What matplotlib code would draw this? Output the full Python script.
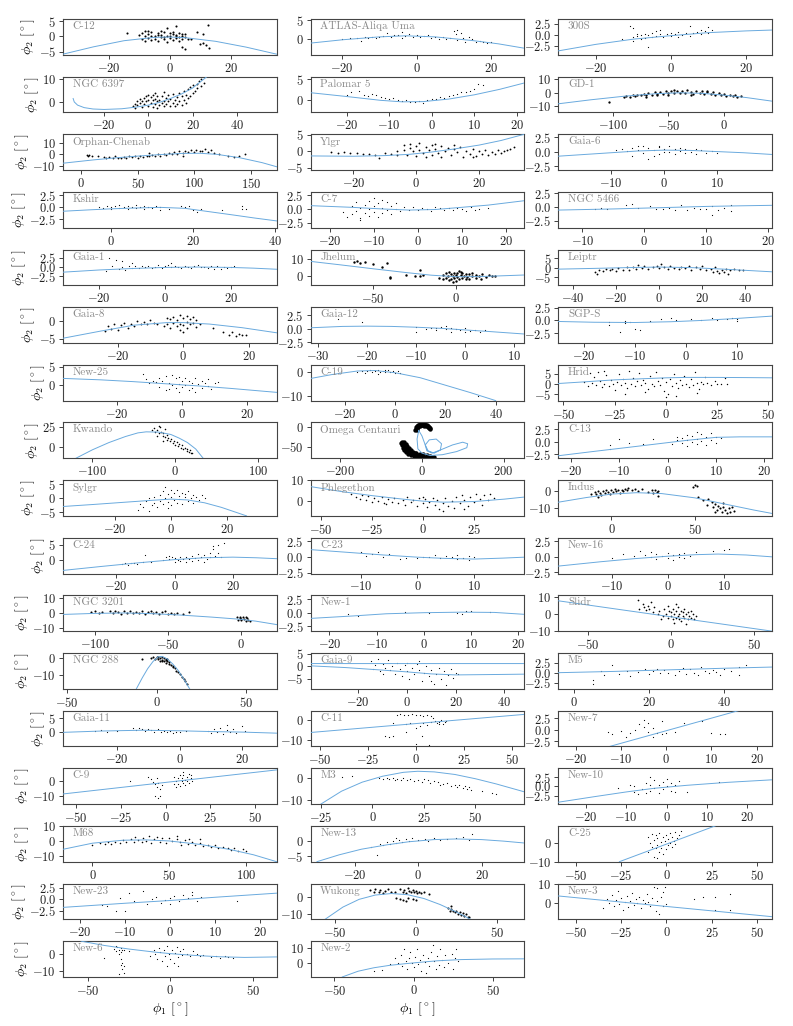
import numpy as np
import matplotlib
matplotlib.use('Agg')
import matplotlib.pyplot as plt

plt.rcParams['font.family'] = 'serif'
plt.rcParams['font.serif'] = ['cmr10']
plt.rcParams['mathtext.fontset'] = 'cm'
plt.rcParams['axes.formatter.use_mathtext'] = True
plt.rcParams['font.size'] = 8

# stream names, in panel order
names = ['C-12', 'ATLAS-Aliqa Uma', '300S', 'NGC 6397', 'Palomar 5', 'GD-1',
         'Orphan-Chenab', 'Ylgr', 'Gaia-6', 'Kshir', 'C-7', 'NGC 5466',
         'Gaia-1', 'Jhelum', 'Leiptr', 'Gaia-8', 'Gaia-12', 'SGP-S',
         'New-25', 'C-19', 'Hrid', 'Kwando', 'Omega Centauri', 'C-13',
         'Sylgr', 'Phlegethon', 'Indus', 'C-24', 'C-23', 'New-16',
         'NGC 3201', 'New-1', 'Slidr', 'NGC 288', 'Gaia-9', 'M5',
         'Gaia-11', 'C-11', 'New-7', 'C-9', 'M3', 'New-10',
         'M68', 'New-13', 'C-25', 'New-23', 'Wukong', 'New-3',
         'New-6', 'New-2']

xlims = [(-35, 35), (-28.5, 29), (-30, 27), (-38.6, 58), (-28.5, 21.8), (-149, 43),
         (-16, 173), (-33.6, 34.4), (-20, 20.4), (-11.8, 40.4), (-24.3, 24.2), (-13.9, 20.7),
         (-31, 34), (-88, 41.5), (-47, 52.5), (-36.7, 28.5), (-31.5, 12), (-25, 16.8),
         (-36.5, 29), (-33.6, 51.4), (-52.5, 51.7), (-135.7, 123), (-273, 251), (-22.6, 21.6),
         (-38.7, 37.8), (-55, 49.6), (-31.8, 96), (-38.3, 35), (-18.8, 18.8), (-19.5, 18.6),
         (-121.9, 24.3), (-24, 21.3), (-67.6, 60.6), (-52.3, 67), (-39.6, 48.2), (-4.3, 52.9),
         (-37.2, 31), (-54.7, 56.5), (-23.9, 23.4), (-57.4, 62.2), (-30, 73.7), (-26.9, 26.2),
         (-19.2, 120), (-34, 33.5), (-59.8, 58.4), (-23.8, 23.8), (-64.9, 67), (-59.8, 58.4),
         (-65, 64.5), (-65, 70)]

ylims = [(-6, 5.7), (-4.4, 5.4), (-4.6, 3.65), (-4.6, 11.1), (-2.85, 5.6), (-15, 12),
         (-13.3, 17), (-5.7, 5.2), (-3.2, 3.0), (-4.2, 3.2), (-3.4, 3.1), (-3.7, 2.7),
         (-5, 4.8), (-5.4, 15.4), (-9.3, 9.5), (-6.1, 3.75), (-2.6, 4), (-4.4, 2.6),
         (-4.4, 5.6), (-11.7, 2.7), (-8.2, 9.4), (-14, 30.5), (-79, 12.5), (-3.3, 3.9),
         (-6.2, 6.4), (-7.4, 10.1), (-14.4, 6.3), (-4.3, 7.3), (-2.6, 3.1), (-2.7, 3.1),
         (-12.2, 11.8), (-3.4, 3.2), (-10, 11), (-17.9, 2.9), (-8.9, 5.3), (-4, 4.9),
         (-5.6, 7.9), (-13.3, 4.7), (-3.6, 4.1), (-15.1, 8.7), (-12, 4.7), (-4.8, 4.95),
         (-13.9, 10.1), (-6.8, 4.7), (-10, 9), (-4.4, 3.4), (-13.1, 7.7), (-8.9, 10.1),
         (-13.7, 8.1), (-9.3, 14.4)]

xticks = [[-20, 0, 20], [-20, 0, 20], [-20, 0, 20], [-20, 0, 20, 40], [-20, -10, 0, 10, 20], [-100, -50, 0],
          [0, 50, 100, 150], [-20, 0, 20], [-10, 0, 10], [0, 20, 40], [-20, -10, 0, 10, 20], [-10, 0, 10, 20],
          [-20, 0, 20], [-50, 0], [-40, -20, 0, 20, 40], [-20, 0, 20], [-30, -20, -10, 0, 10], [-20, -10, 0, 10],
          [-20, 0, 20], [-20, 0, 20, 40], [-50, -25, 0, 25, 50], [-100, 0, 100], [-200, 0, 200], [-20, -10, 0, 10, 20],
          [-20, 0, 20], [-50, -25, 0, 25], [0, 50], [-20, 0, 20], [-10, 0, 10], [-10, 0, 10],
          [-100, -50, 0], [-20, -10, 0, 10, 20], [-50, 0, 50], [-50, 0, 50], [-20, 0, 20, 40], [0, 20, 40],
          [-20, 0, 20], [-50, -25, 0, 25, 50], [-20, -10, 0, 10, 20], [-50, -25, 0, 25, 50], [-25, 0, 25, 50], [-20, -10, 0, 10, 20],
          [0, 50, 100], [-20, 0, 20], [-50, -25, 0, 25, 50], [-20, -10, 0, 10, 20], [-50, 0, 50], [-50, -25, 0, 25, 50],
          [-50, 0, 50], [-50, 0, 50]]

h = [-2.5, 0, 2.5]
yticks = [[-5, 0, 5], [0, 5], h, [0, 10], [0, 5], [-10, 0, 10],
          [-10, 0, 10], [-5, 0, 5], h, h, h, h,
          h, [0, 10], [-5, 0, 5], [-5, 0], h, h,
          [0, 5], [-10, 0], [-5, 0, 5], [0, 25], [-50, 0], h,
          [-5, 0, 5], [0, 10], [-10, 0], [0, 5], h, h,
          [-10, 0, 10], h, [-10, 0, 10], [-10, 0], [-5, 0, 5], h,
          [0, 5], [-10, 0], h, [-10, 0], [-10, 0], h,
          [-10, 0, 10], [-5, 0], [-10, 0], h, [-10, 0], [0, 10],
          [-10, 0], [0, 10]]

# track (blue line) per stream, phi1 and phi2; nan splits separate pieces
nan = np.nan
track_x = [
    [-35, -25, -15, -5, 0, 5, 15, 25, 35],
    [-28.5, -20, -10, -3, 5, 15, 22, 29],
    [-30, -20, -10, 0, 10, 20, 27],
    [-34, -33.5, -32, -29, -25, -20, -12, -5, 0, 5, 10, 15, 20, 26.5],
    [-28.5, -20, -12, -7, -2, 4, 10, 16, 21.8],
    [-149, -120, -90, -60, -40, -20, 0, 20, 43],
    [-16, 10, 30, 50, 70, 90, 105, 120, 140, 160, 173],
    [-33.6, -20, -10, -2, 5, 12, 20, 27, 34.4],
    [-20, -10, -5, 0, 5, 10, 15, 20.4],
    [-11.8, -5, 0, 5, 12, 18, 24, 30, 35, 40.4],
    [-24.3, -15, -8, -2, 4, 10, 16, 24.2],
    [-13.9, -5, 0, 5, 10, 15, 20.7],
    [-31, -20, -10, 0, 10, 20, 27, 34],
    [-88, -70, -50, -30, -15, 0, 15, 30, 41.5],
    [-47, -30, -15, 0, 15, 30, 52.5],
    [-36.7, -25, -15, -5, 0, 8, 18, 28.5],
    [-31.5, -25, -20, -15, -10, -5, 0, 5, 12],
    [-25, -18, -10, -3, 3, 10, 16.8],
    [-36.5, -25, -15, -5, 5, 15, 29],
    [-33.6, -25, -15, -8, 0, 10, 20, 30, 40],
    [-52.5, -40, -25, -10, 0, 10, 25, 40, 51.7],
    [-120, -100, -80, -60, -45, -35, -20, -5, 5, 15, 25, 34],
    [-8, -12, -10, 0, 20, 50, 85, 110, 112, 100, 75, 45, 25, 12, 8, 18, 35, 48, 45, 30, 15, 8, 0, -8],
    [-22.6, -15, -8, -2, 4, 10, 15, 21.6],
    [-38.7, -28, -18, -8, 0, 6, 12, 18, 24, 27],
    [-55, -40, -25, -10, 0, 10, 25, 40, 49.6],
    [-31.8, -15, 0, 15, 30, 50, 70, 85, 96],
    [-38.3, -25, -12, 0, 10, 20, 28, 35],
    [-18.8, -12, -6, 0, 5, 10, 15, 18.8],
    [-19.5, -12, -6, 0, 5, 9, 14, 18.6],
    [-121.9, -100, -80, -60, -40, -20, 0, 10, 24.3],
    [-24, -15, -8, 0, 8, 15, 21.3],
    [-67.6, 0, 60.6],
    [-11.3, -8, -5, -2, 1, 3, 6, 9, 12, 15, 18.4],
    [-39.6, -25, -10, 0, 10, 20, 30, 40, 48.2, nan, -39.6, 48.2],
    [-4.3, 10, 25, 40, 52.9],
    [-37.2, -25, -12, 0, 10, 20, 31],
    [-54.7, 56.5],
    [-12.5, 16],
    [-57.4, 62.2],
    [-25, -15, -5, 5, 15, 22, 30, 40, 50, 60, 73.7],
    [-26.9, -18, -10, -3, 5, 15, 26.2],
    [-19.2, 0, 20, 35, 50, 70, 90, 105, 120],
    [-32, -25, -18, -10, -3, 5, 12, 20, 27, 33.5],
    [-26, 27],
    [-23.8, -10, 0, 10, 23.8],
    [-56, -45, -35, -25, -15, -5, 5, 15, 25, 33.9],
    [-59.8, 58.4],
    [-54, -40, -25, -10, 0, 15, 30, 45, 64.5],
    [-45, -35, -25, -15, -5, 5, 15, 30, 50, 70],
]
track_y = [
    [-5.8, -3.4, -1.4, -0.3, -0.2, -0.4, -1.6, -3.5, -5.8],
    [-1.2, -0.3, 0.5, 0.8, 0.5, -0.5, -1.4, -2.6],
    [-3.7, -2.2, -1.0, -0.2, 0.5, 0.9, 1.1],
    [1.5, 0, -1.4, -2.5, -3.1, -3.3, -3.0, -2.2, -1.4, -0.2, 1.5, 3.5, 6.1, 11.1],
    [1.8, 0.9, 0.0, -0.35, -0.3, 0.3, 1.3, 2.6, 4.1],
    [-8.5, -5.5, -2.8, -0.8, -0.2, -0.6, -2.0, -3.8, -6.5],
    [-7.5, -4.8, -3.0, -1.5, -0.2, 0.8, 0.9, 0.0, -2.8, -7.0, -10.5],
    [-1.4, -1.5, -1.3, -0.9, -0.2, 0.7, 1.9, 3.3, 5.2],
    [-0.8, -0.2, 0.1, 0.25, 0.2, 0.0, -0.2, -0.5],
    [-0.8, -0.5, -0.3, -0.15, 0.0, -0.2, -0.9, -1.6, -2.2, -2.8],
    [0.6, 0.3, 0.0, -0.2, -0.1, 0.3, 0.7, 1.5],
    [-0.55, -0.35, -0.2, -0.05, 0.1, 0.2, 0.3],
    [-1.4, -0.8, -0.4, -0.1, 0.0, -0.1, -0.3, -0.6],
    [8.5, 6.5, 4.2, 2.0, 0.5, -0.4, -0.3, 0.2, 0.6],
    [-0.8, -0.4, 0.0, 0.3, 0.0, -0.8, -2.2],
    [-4.8, -2.8, -1.2, -0.5, -0.5, -0.9, -1.9, -3.3],
    [0.2, 0.45, 0.5, 0.45, 0.3, 0.1, -0.2, -0.5, -0.95],
    [-0.2, -0.35, -0.4, -0.25, 0.0, 0.4, 0.85],
    [1.8, 1.4, 0.9, 0.3, -0.3, -1.0, -2.1],
    [-2.8, -1.2, 0.2, 0.4, -0.5, -2.5, -5.5, -8.5, -11.7],
    [0.2, 1.0, 2.0, 2.6, 3.0, 3.2, 3.2, 3.1, 3.0],
    [-14, -3.5, 5.5, 13, 17.5, 18.8, 18.5, 15.5, 11, 5.5, -2.5, -14],
    [-8, -30, -55, -66, -72, -70, -62, -52, -42, -38, -45, -58, -66, -60, -45, -32, -30, -42, -58, -66, -60, -45, -22, -8],
    [-2.8, -1.9, -1.1, -0.4, 0.3, 0.9, 1.0, 1.0],
    [-2.9, -2.2, -1.5, -0.8, -0.3, -0.6, -1.6, -3.2, -5.2, -6.2],
    [6.9, 4.5, 2.5, 0.8, -0.2, -0.7, -0.4, 0.8, 1.8],
    [-6.5, -3.8, -1.8, -1.0, -1.5, -4.0, -8.0, -11.0, -13.0],
    [-3.3, -2.0, -0.8, 0.2, 0.8, 1.0, 0.8, 0.5],
    [1.2, 0.75, 0.35, 0.0, -0.2, -0.3, -0.15, 0.0],
    [-1.5, -0.8, -0.3, 0.1, 0.35, 0.45, 0.3, 0.0],
    [-1.0, -0.3, 0.0, -0.5, -1.5, -2.8, -4.3, -5.5, -7.8],
    [-1.05, -0.6, -0.2, 0.0, 0.1, 0.05, -0.3],
    [7.8, -1.6, -10.0],
    [-17.9, -11.5, -6.2, -2.0, 0.7, 0.9, -0.6, -3.5, -7.2, -12.0, -17.9],
    [0.2, -0.5, -1.5, -2.2, -3.0, -3.4, -3.3, -3.2, -3.1, nan, 1.1, 1.1],
    [0.0, 0.3, 0.7, 1.1, 1.4],
    [-0.3, 0.2, 0.5, 0.3, 0.0, -0.2, -0.6],
    [-6.3, 2.8],
    [-3.6, 4.1],
    [-8.4, 7.6],
    [-12, -6.0, -1.8, 1.0, 2.8, 3.3, 3.0, 1.8, -0.2, -2.6, -6.3],
    [-4.3, -2.8, -1.5, -0.5, 0.3, 1.1, 1.8],
    [-5.6, -1.5, 0.5, 0.7, 0.0, -2.3, -5.8, -9.3, -13.9],
    [-6.8, -4.6, -2.8, -1.4, -0.4, 0.3, 0.5, 0.3, -0.2, -0.8],
    [-10, 9],
    [-1.8, -0.9, -0.3, 0.4, 1.3],
    [-13.1, -6.0, -1.5, 1.0, 1.9, 1.2, -1.0, -4.5, -8.8, -13.1],
    [3.5, -7.5],
    [8.1, 5.5, 3.3, 1.5, 0.5, -0.6, -1.4, -1.8, -1.5],
    [-9.3, -5.5, -3.2, -1.6, -0.5, 0.5, 1.4, 2.2, 2.6, 2.7],
]

# member stars (phi1, phi2) per stream
stars = [
    [(-14, 1.0), (-10, 0.4), (-9, -1.0), (-9, 1.1), (-8, 0.0), (-8, -1.6), (-7, 0.8), (-7, -0.6), (-6, 1.5), (-6, -1.2),
     (-5, 0.3), (-5, -0.9), (-4, 1.2), (-4, -1.5), (-3, 0.6), (-3, -0.3), (-2, 1.6), (-2, -1.0), (-1, 0.2), (-1, -1.8),
     (0, 1.0), (0, -0.6), (1, 1.4), (1, -1.2), (2, 0.5), (2, -0.4), (3, 1.1), (3, -1.6), (4, 0.2), (4, -0.9),
     (5, 0.7), (5, -0.2), (6, -0.7), (-8, 1.9), (-6, 0.1), (-4, 0.4), (-2, -0.2), (0, 0.3), (2, 0.0), (4, 0.8),
     (-7, 1.8), (-3, 1.7), (1, 0.9), (3, -0.1), (-1, 2.8), (2, 3.3), (5, -4.2), (7, -1.0), (10, -2.4), (11, 0.8),
     (12, -2.8), (13, -3.7), (12.5, 3.8), (11, -2.2), (4, -3.3), (9, 1.3)],
    [(-20, -0.2), (-18, 0.1), (-16, 0.2), (-14, 0.4), (-13, 0.2), (-12, 0.6), (-11, 0.3), (-10, 0.5), (-9, 0.8), (-8, 1.5),
     (-7, 0.4), (-6, 0.9), (-5, 1.1), (-4, 0.3), (-3, 0.8), (-2, 1.3), (-1, 0.6), (0, 1.0), (1, 0.4), (2, 0.8),
     (3, 1.1), (4, 0.2), (5, 0.6), (6, 0.0), (7, 0.4), (8, -0.1), (9, 0.3), (10, 2.0), (10.5, 1.2), (11, -0.4),
     (12, 1.5), (12.5, 0.2), (13, -0.8), (14, 0.6), (15, -0.2), (16, -1.0), (17, -0.5), (18, -0.8), (19, -1.3), (20, -1.0),
     (-15, -0.5), (-4, 1.7), (11, 2.5)],
    [(-13, -1.0), (-11, 2.0), (-10, -1.5), (-10, -0.6), (-9, -0.3), (-9, 0.3), (-8, -0.9), (-8, -0.1), (-7, 0.2), (-7, -0.7),
     (-6, -2.8), (-6, 0.0), (-5, -0.4), (-5, 0.5), (-4, -0.2), (-3, 0.3), (-3, 1.2), (-2, -0.5), (-1, 0.1), (0, 0.4),
     (0, -0.3), (1, 0.2), (2, 0.6), (3, 0.0), (4, 0.4), (5, 2.0), (5, -0.2), (6, 0.5), (7, 0.7), (8, 0.2),
     (8, 1.2), (9, 0.8), (10, 1.8), (10, 0.4), (11, 1.2), (-10, 1.5), (-4, 0.9), (2, -0.6)],
    [(-7, -2.0), (-6, -1.0), (-6, -2.5), (-5, 0.5), (-5, -1.5), (-4, -0.5), (-4, 1.2), (-3, -2.2), (-3, 0.2), (-2, 1.8),
     (-2, -1.0), (-1, 0.5), (-1, 2.5), (0, -1.8), (0, 1.0), (0, 3.0), (1, -0.5), (1, 2.0), (2, -2.2), (2, 0.8),
     (2, 3.2), (3, -1.0), (3, 1.5), (4, -2.5), (4, 0.3), (4, 2.5), (5, -1.5), (5, 1.0), (6, -0.3), (6, 2.8),
     (7, -2.0), (7, 0.6), (8, 1.8), (8, -1.0), (9, 0.2), (9, 3.2), (10, -1.8), (10, 1.5), (11, -0.5), (11, 3.5),
     (12, 0.8), (12, -2.0), (13, 2.2), (13, -0.8), (14, 4.0), (14, 0.5), (15, -1.5), (15, 2.8), (16, 1.0), (16, 4.8),
     (17, -0.5), (17, 3.0), (18, 5.5), (18, 1.8), (19, 2.5), (19, 6.5), (20, 4.0), (20, 7.5), (21, 5.0), (22, 8.0),
     (22, 6.2), (23, 9.0), (24, 7.0), (24, 10.0), (25, 8.5), (3, 4.0), (7, 4.5)],
    [(-20, 1.2), (-19, 1.9), (-17, 2.2), (-16, 1.3), (-15, 1.1), (-14, 1.6), (-13, 1.3), (-12, 0.9), (-11, 0.6), (-10, 0.2),
     (-9, 0.6), (-8, 0.0), (-7, -0.2), (-6, 0.1), (-5, -0.3), (-4, -0.5), (-3, -0.2), (-2, -0.6), (-1, 0.0), (0, 0.3),
     (1, 0.2), (2, 0.8), (3, 0.6), (4, 1.1), (5, 1.3), (6, 1.4), (7, 1.9), (8, 2.0), (9, 2.3), (10, 2.6),
     (11, 3.8), (12, 3.7)],
    [(-103, -7.5), (-90, -3.5), (-88, -2.5), (-85, -3.0), (-82, -1.8), (-80, -2.8), (-78, -1.5), (-75, -2.2), (-72, -0.8), (-70, -1.8),
     (-68, -0.5), (-65, -1.5), (-62, 0.2), (-60, -1.0), (-58, 0.5), (-55, -0.8), (-52, 1.0), (-50, -0.2), (-48, 0.8), (-45, -0.6),
     (-42, 1.2), (-40, 0.0), (-38, 1.5), (-35, -0.5), (-33, 2.0), (-30, 0.5), (-28, -0.8), (-25, 1.0), (-22, -0.3), (-20, 0.8),
     (-18, -1.2), (-15, 0.3), (-12, -1.0), (-10, 0.6), (-8, -1.5), (-5, -0.5), (-3, -2.0), (0, -1.0), (2, -2.5), (5, -1.8),
     (8, -2.8), (10, -2.0), (12, -3.2), (15, -2.5), (-60, -2.0), (-45, 1.8), (-30, -1.5), (-15, 1.5), (-70, -3.0), (-50, -1.5)],
    [(5, -0.5), (6, -1.5), (7, -0.2), (10, -1.2), (15, -1.8), (20, -2.5), (22, -3.2), (25, -2.0), (28, -3.0), (30, -1.8),
     (33, -2.8), (35, -3.5), (38, -2.2), (40, -3.0), (42, -1.5), (45, -2.6), (48, -1.8), (50, -3.0), (52, -1.2), (55, -2.2),
     (58, -1.0), (60, -1.8), (63, -0.5), (65, -1.5), (68, 0.0), (70, -1.0), (73, 0.5), (75, -0.5), (78, 1.0), (80, 0.0),
     (82, 1.8), (85, 0.5), (87, 2.5), (90, 1.2), (92, 3.0), (95, 1.8), (97, 3.5), (100, 2.2), (102, 4.0), (105, 2.5),
     (107, 3.2), (110, 4.5), (112, 2.0), (115, 3.5), (118, 1.5), (122, 0.0), (130, -1.0), (135, -2.0), (140, -1.5), (145, 0.5),
     (90, -1.0), (60, 0.8)],
    [(-27, -0.2), (-25, -0.5), (-23, -0.3), (-21, -0.6), (-19, -0.5), (-17, -0.7), (-15, -0.8), (-13, -1.0), (-12, -1.9), (-10, -0.6),
     (-8, -0.8), (-6, -1.2), (-4, 0.5), (-4, 1.8), (-3, -1.0), (-2, 1.0), (-2, 2.2), (-1, 0.0), (0, 1.5), (0, -1.5),
     (1, 0.5), (1, 2.4), (2, -0.6), (3, 1.2), (3, -1.8), (4, 0.3), (5, 1.8), (5, -1.0), (6, 0.8), (7, -0.5),
     (8, 1.5), (8, -1.8), (9, 0.2), (10, 1.0), (11, -1.2), (12, 0.6), (13, -0.3), (14, 1.3), (15, -1.6), (16, 0.2),
     (17, -0.8), (18, 0.8), (19, -1.3), (20, 0.0), (21, -0.8), (22, 0.5), (23, -1.0), (24, -0.2), (25, -0.8), (26, 0.3),
     (27, -0.6), (28, 0.0), (29, 0.5), (30, 0.6), (31, 1.2), (-6, 0.2), (6, 2.2), (12, 1.8), (18, -1.8)],
    [(-9, 0.2), (-8, 0.4), (-7, 0.1), (-6, 0.6), (-5, 1.0), (-5, 0.3), (-4, 0.9), (-4, -0.3), (-3, 0.6), (-3, -1.2),
     (-2, 0.2), (-2, -0.8), (-1, 0.8), (-1, -0.4), (0, 0.5), (0, -0.1), (1, 0.9), (1, 0.0), (2, 0.4), (2, -0.5),
     (3, 0.7), (3, 0.1), (4, -0.2), (4, 0.5), (5, 0.0), (6, 0.4), (6, -0.4), (7, 0.2), (8, -0.3), (9, 0.1),
     (10, -0.2), (-1, 1.0), (-6, -0.7)],
    [(-3, 0.1), (-2, -0.2), (-1, 0.3), (0, 0.0), (0, -0.3), (1, 0.2), (2, -0.1), (2, 0.4), (3, 0.0), (4, -0.3),
     (4, 0.3), (5, 0.1), (6, -0.2), (6, 0.4), (7, 0.0), (8, 0.2), (8, -0.3), (9, 0.1), (10, -0.2), (11, 0.3),
     (12, 0.0), (12, -0.5), (14, -0.4), (17, 0.2), (18, 0.0), (19, 0.3), (20, -0.5), (21, -0.9), (22, -0.4), (27, -0.6),
     (32, 0.3), (32, -0.3), (33, -0.4)],
    [(-17, -0.6), (-16, -1.5), (-15, 0.5), (-15, -1.0), (-14, 1.2), (-14, -0.3), (-13, 0.2), (-13, -1.6), (-12, 0.8), (-12, -0.8),
     (-11, 1.5), (-11, 0.0), (-11, -1.2), (-10, 0.5), (-10, -0.5), (-9, 1.0), (-9, -1.4), (-8, 0.2), (-8, -0.7), (-7, 1.3),
     (-7, -0.2), (-6, 0.6), (-6, -1.0), (-5, 0.0), (-5, 1.0), (-4, -0.4), (-3, 0.4), (-2, -0.2), (-1, 0.3), (0, -0.1),
     (1, 0.2), (2, 0.0), (3, -0.3), (4, 0.4), (5, 0.1), (6, -0.1), (7, 0.2), (8, -0.2), (9, 0.1), (10, 0.0),
     (11, -0.3), (12, 0.3), (13, -0.2), (14, 0.0), (16, 0.1), (-10, 1.9), (-8, 1.7), (-13, -2.0)],
    [(-8, -0.3), (-7, -0.1), (-6, -0.4), (-3, 0.3), (-2, 0.6), (-1, -0.2), (1, 0.1), (2, -0.3), (3, -0.4), (4, -0.2),
     (6, 0.3), (7, -0.5), (8, -0.2), (9, -0.4), (10, -0.3), (11, -1.4), (11, 0.1), (12, -0.5), (13, -0.2), (14, 0.3),
     (14, -0.8), (5, -0.5)],
    [(-18, -1.0), (-17, 2.5), (-16, 0.2), (-15, 2.0), (-14, -0.5), (-13, 1.6), (-13, 0.0), (-12, -0.8), (-11, 0.3), (-10, -0.3),
     (-9, 0.2), (-8, -0.2), (-7, 0.4), (-6, -0.1), (-5, 0.3), (-4, -0.3), (-3, 0.1), (-2, 0.5), (-1, -0.2), (0, 0.2),
     (1, 0.6), (2, -0.1), (3, 0.3), (4, 0.1), (5, -0.2), (6, 0.4), (7, 0.0), (8, -0.3), (9, 0.2), (10, 0.5),
     (11, -0.1), (12, 0.1), (13, -0.2), (14, 0.2), (15, -0.4), (16, 0.3), (17, -0.5), (18, 0.1), (19, -0.2), (20, 0.0),
     (21, 0.2), (-10, 1.0), (2, 1.2)],
    [(-62, 8.0), (-60, 8.5), (-58, 7.5), (-55, 8.2), (-50, 7.0), (-45, 5.0), (-42, 7.8), (-40, -0.5), (-40, -1.0), (-30, 0.5),
     (-25, 0.2), (-22, 0.0), (-22, 3.5), (-20, 0.4), (-10, -1.0), (-8, 0.5), (-8, -2.0), (-6, 1.5), (-6, -1.0), (-5, 0.0),
     (-4, 2.5), (-4, -2.5), (-3, 1.0), (-3, -1.5), (-2, 0.0), (-1, 2.0), (-1, -1.0), (0, 0.5), (0, -2.8), (1, 1.5),
     (1, -0.5), (2, 3.0), (2, -1.8), (3, 0.5), (4, -1.0), (4, 1.8), (5, 0.0), (6, -2.0), (6, 1.0), (7, -0.5),
     (8, 1.2), (8, -1.5), (10, 0.0), (10, 2.0), (12, -1.0), (12, 0.8), (14, 0.0), (15, -1.5), (16, 1.0), (18, -0.5),
     (20, 0.5), (22, -0.2), (24, 0.3), (-2, -3.2), (3, 2.2)],
    [(-30, -2.2), (-29, -3.5), (-28, -1.0), (-26, -1.8), (-25, -0.5), (-23, -1.5), (-22, -0.8), (-20, -2.0), (-19, -0.3), (-17, -1.2),
     (-15, 0.2), (-14, -1.0), (-12, 0.5), (-11, -0.5), (-10, 1.2), (-8, 0.0), (-7, 0.8), (-5, -0.5), (-3, 0.3), (-1, 1.0),
     (0, -0.3), (1, 2.0), (2, 0.5), (4, -0.6), (5, 0.8), (7, 0.0), (9, -0.8), (10, 0.5), (12, -0.3), (14, 0.6),
     (15, -1.0), (17, 0.2), (19, -0.6), (20, 0.8), (22, -1.5), (24, -0.5), (25, -2.5), (26, 0.2), (27, -1.8), (28, -3.0),
     (29, -1.0), (30, -2.2), (31, -0.5), (32, -3.2), (33, -1.5), (35, -0.8), (37, -1.5), (39, -1.0)],
    [(-24, -2.8), (-23, -1.5), (-22, -2.2), (-21, -1.0), (-20, -2.5), (-19, -1.2), (-18, -0.5), (-17, -2.0), (-16, -0.8), (-15, -1.5),
     (-14, 0.0), (-13, -1.0), (-12, -0.2), (-11, -0.8), (-10, 0.2), (-9, -0.5), (-8, -0.8), (-5, -1.0), (-4, 0.5), (-4, -2.0),
     (-3, 1.0), (-3, -0.5), (-2, -1.5), (-2, 0.3), (-1, 1.5), (-1, -2.5), (-1, -0.8), (0, 0.8), (0, -1.2), (0, -3.0),
     (1, 1.2), (1, -0.2), (1, -2.0), (2, 0.4), (2, -1.0), (3, -0.5), (3, 1.0), (4, -1.8), (4, 0.2), (5, -0.8),
     (-5, 0.8), (12, -3.2), (14, -3.8), (15, -3.0), (16, -4.2), (17, -3.5), (18, -4.0), (19, -3.8), (9, -2.0), (-6, -1.5)],
    [(-26, 1.8), (-21, 1.2), (-10, -0.5), (-10, 0.3), (-8, 0.0), (-7, 0.2), (-6, -0.3), (-5, 0.4), (-4, -0.1), (-3, 0.2),
     (-3, -0.5), (-2, 0.0), (-1, -0.3), (0, 0.2), (1, -0.4), (2, -0.2), (3, -0.6), (4, -0.3), (-4, 0.5), (-6, 0.1),
     (0, -0.6)],
    [(-15, -0.3), (-15, -0.8), (-13, -2.3), (-12, -0.4), (-11, -0.3), (-10, -1.7), (-9, -1.8), (-7, -0.1), (-5, 0.2), (-3, 0.5),
     (-2, 0.1), (1, 0.3), (3, 0.1), (5, 0.4), (6, 0.0), (8, 0.3), (9, 0.5), (10, 0.2), (10, -0.2), (-12, -0.2)],
    [(-12, 3.0), (-11, 1.5), (-10, 0.5), (-9, 1.2), (-8, 0.8), (-7, -0.5), (-6, 1.0), (-5, 2.5), (-5, -1.5), (-4, 0.5),
     (-4, -1.2), (-3, 2.8), (-3, 0.0), (-2, 1.8), (-2, -0.8), (-1, 0.3), (-1, -2.0), (0, 1.2), (0, -0.5), (1, 2.0),
     (1, 0.0), (2, -1.5), (2, 1.0), (3, 0.5), (3, -0.8), (4, 1.8), (4, -2.0), (5, 0.2), (6, 1.2), (6, -1.0),
     (7, 0.5), (8, -0.3), (8, 1.5), (9, -1.2), (10, 0.4), (11, 0.8), (-7, 1.8), (-1, 2.2)],
    [(-15, -0.3), (-13, 0.4), (-12, -0.5), (-11, 0.2), (-10, 0.5), (-9, -0.2), (-8, 0.3), (-7, 0.6), (-6, -0.1), (-5, 0.4),
     (-4, 0.0), (-3, 0.5), (-2, -0.3), (-1, 0.2), (0, -0.4), (1, 0.1), (2, -0.6), (-7, -1.0), (-4, 0.8), (33, -10.0)],
    [(-40, 1.0), (-38, -1.0), (-37, 5.5), (-36, 0.5), (-35, 3.5), (-34, -0.5), (-33, 6.0), (-32, 1.5), (-31, -1.5), (-30, 0.2),
     (-29, 4.5), (-28, -0.8), (-27, 2.0), (-26, 0.0), (-25, -3.0), (-24, 1.0), (-23, 5.0), (-22, -0.5), (-21, 2.5), (-20, 0.3),
     (-19, -2.0), (-18, 6.5), (-17, 0.0), (-16, 3.0), (-15, -1.0), (-14, 1.2), (-13, 5.5), (-12, -0.3), (-11, 2.0), (-10, 0.5),
     (-9, -2.5), (-8, 4.0), (-7, 0.0), (-6, -1.2), (-5, 6.0), (-4, 1.5), (-3, -0.5), (-2, 3.0), (-1, -3.5), (0, 0.8),
     (0, -6.5), (1, -5.0), (2, 2.5), (3, -0.8), (4, 5.0), (5, 0.3), (6, -2.0), (7, 1.8), (8, -0.5), (9, 4.0),
     (10, 0.0), (11, -1.5), (12, 2.2), (13, -0.3), (14, 6.0), (15, 0.5), (16, -2.5), (17, 1.0), (18, -0.2), (19, 3.5),
     (20, 0.3), (22, -0.5), (24, 1.2), (25, -0.2), (27, 0.0), (29, 3.0), (30, 0.2), (-30, 6.5), (-20, -5.0), (-10, -4.0),
     (5, -6.0), (15, -4.5)],
    [(-28, 21), (-25, 23), (-24, 19), (-22, 20.5), (-20, 17), (-18, 25), (-17, 18.5), (-15, 14), (-14, 17), (-12, 12),
     (-10, 15), (-10, 9), (-8, 11), (-6, 7), (-5, 10), (-3, 5), (-1, 8), (0, 3), (2, 6), (4, 1),
     (5, 3.5), (7, -1), (9, 2), (10, -3), (12, -1.5), (14, -5), (15, -2), (17, -6), (18, -4), (19, -8),
     (20, -7), (-22, 14), (-15, 7), (-20, 26), (-12, 22)],
    [(-16, -8), (-15, -4), (-14, 0), (-12, 3), (-12, -6), (-10, 5), (-9, 0), (-8, 7), (-6, 4), (-5, 8),
     (-3, 6), (0, 8), (0, 5), (3, 7), (5, 4), (6, 8), (8, 6), (10, 3), (10, 7), (12, 5),
     (14, 1), (15, 4), (17, -2), (18, 2), (20, -5), (19, -1), (-13, -2), (4, 9),
     (-52, -40), (-48, -37), (-50, -46), (-46, -43), (-44, -38), (-47, -52), (-42, -48), (-40, -42), (-44, -58), (-38, -54),
     (-36, -47), (-40, -64), (-34, -60), (-32, -52), (-35, -68), (-30, -65), (-28, -58), (-28, -72), (-24, -68), (-22, -62),
     (-20, -74), (-17, -70), (-14, -65), (-12, -76), (-9, -72), (-6, -67), (-4, -77), (0, -73), (3, -69), (5, -78),
     (9, -75), (12, -71), (15, -77), (19, -74), (23, -76), (27, -75), (30, -77), (-26, -64), (-18, -66), (-8, -70),
     (2, -75), (-38, -60), (-45, -47)],
    [(-12, -1.5), (-12, -0.7), (-10, 0.6), (-8, -0.3), (-5, -0.4), (-3, 0.5), (1, -0.5), (2, 0.3), (2, 1.0), (3, -0.2),
     (3, 0.8), (4, 0.4), (4, -0.8), (5, 1.2), (5, 0.0), (6, 0.6), (6, -0.4), (7, 1.5), (7, 0.2), (8, 0.9),
     (8, -0.6), (9, 1.8), (9, 0.4), (10, 1.0), (10, -0.2), (11, 0.7), (6, 1.9), (4, 1.3)],
    [(-12, -4.0), (-11, -2.0), (-10, -3.2), (-9, -1.0), (-8, -4.5), (-7, -2.5), (-6, 0.5), (-6, -1.8), (-5, -3.0), (-4, 1.0),
     (-4, -0.8), (-3, 2.5), (-3, -2.0), (-2, 0.0), (-2, 3.8), (-1, 1.5), (-1, -1.2), (0, 0.5), (0, 2.8), (0, -2.5),
     (1, -0.5), (1, 1.8), (2, 3.0), (2, -1.5), (3, 0.8), (3, -0.3), (4, 2.0), (4, -2.0), (5, 0.3), (5, 1.5),
     (6, -1.0), (6, 2.5), (7, 0.0), (8, 1.2), (8, -1.5), (9, 0.5), (10, -0.5), (11, 1.0), (12, 0.0), (-8, 0.0),
     (-1, -3.5)],
    [(-35, 3.5), (-33, 2.0), (-31, 1.0), (-30, 3.0), (-28, 0.5), (-27, 2.2), (-25, -0.5), (-24, 1.5), (-22, 0.0), (-20, 2.0),
     (-19, -1.0), (-17, 0.8), (-15, -0.5), (-14, 1.5), (-12, -1.2), (-10, 0.5), (-9, -2.0), (-8, 1.8), (-6, -0.8), (-5, 0.5),
     (-3, -2.5), (-2, 1.2), (0, -1.0), (1, 0.8), (2, -3.0), (3, -0.5), (5, 1.5), (6, -2.0), (7, 0.2), (8, -4.0),
     (10, -1.0), (11, 1.2), (12, -2.5), (14, 0.0), (15, -3.5), (16, 2.0), (18, -1.2), (19, 3.0), (20, 0.5), (22, -2.5),
     (23, 2.0), (25, -0.5), (26, 3.5), (28, 1.0), (29, -2.0), (30, 2.8), (32, 0.2), (33, 3.5), (35, 1.5), (-18, -1.8),
     (0, 2.0), (10, -5.0), (20, -4.0)],
    [(-12, -1.5), (-10, -0.5), (-9, -2.0), (-8, 0.2), (-7, -1.0), (-6, -2.5), (-5, 0.0), (-4, -1.2), (-3, 0.8), (-2, -0.5),
     (-1, -1.8), (0, 0.3), (1, -0.8), (2, 1.0), (3, -0.3), (4, 0.5), (5, -1.0), (6, 0.8), (7, 0.0), (8, 1.2),
     (9, 0.3), (10, 1.5), (12, 0.5), (14, 1.0), (16, 0.2), (18, 1.2), (-8, -3.5), (22, -0.5), (24, 0.5), (25, -1.0),
     (26, 0.3), (27, -0.8), (28, -0.2), (28, -3.0), (50, 3.5), (49, 2.5), (51, 3.0), (52, -3.5), (55, -5.0), (58, -4.5),
     (60, -6.5), (61, -9.0), (62, -7.5), (63, -11.0), (64, -8.5), (65, -10.0), (66, -12.0), (67, -9.0), (68, -11.0), (69, -13.0),
     (70, -10.0), (71, -12.0), (72, -9.5), (73, -11.5), (62, -12.0), (67, -7.0), (57, -8.0)],
    [(-18, -1.3), (-17, -1.0), (-16, -1.5), (-15, -1.0), (-14, -0.8), (-13, -1.2), (-11, -0.7), (-10, 1.8), (-8, -0.5), (-4, 0.0),
     (-3, 1.2), (-2, 0.5), (-1, 1.0), (0, -0.5), (0, 0.8), (1, 0.2), (2, -0.3), (2, 1.2), (3, 0.5), (4, -0.5),
     (4, 1.0), (5, 0.3), (6, 1.5), (6, -0.3), (7, 0.6), (8, 2.0), (8, 0.0), (9, 1.0), (10, 1.8), (10, -0.5),
     (11, 0.5), (12, 2.5), (12, 1.2), (13, 3.5), (14, 1.5), (15, 2.2), (16, 1.0), (13, 4.5), (15, 5.0), (17, 5.5),
     (-2, 1.5)],
    [(-10, 0.9), (-9, 0.2), (-8, 0.5), (-7, 0.9), (-6, 0.0), (-5, 0.5), (-3, -0.3), (-2, -0.2), (0, -0.1), (1, 0.0),
     (2, 0.1), (3, 0.4), (4, -0.1), (5, 0.2), (6, 0.0), (7, 0.3), (7, -0.3), (8, -0.1), (9, 0.2), (9, -0.5),
     (10, 0.0)],
    [(-10, -0.2), (-8, 0.4), (-6, 0.2), (-5, 1.0), (-4, 0.3), (-3, 0.0), (-2, 0.5), (-2, -0.3), (-1, 0.2), (0, 0.6),
     (0, -0.2), (1, 0.3), (1, -0.5), (2, 0.5), (2, 0.0), (3, 0.7), (3, -0.2), (4, 0.2), (5, 0.8), (8, 1.0),
     (10, 1.1), (11, 1.2), (-3, 0.8)],
    [(-103, 0.5), (-100, 1.0), (-97, -0.3), (-95, 0.8), (-90, 1.2), (-88, 0.0), (-86, 1.5), (-84, 0.6), (-82, -0.5), (-80, 1.0),
     (-78, 0.2), (-76, 1.3), (-74, -0.3), (-72, 0.8), (-70, 0.0), (-68, 1.2), (-66, -0.5), (-64, 0.5), (-62, 1.0), (-60, -0.2),
     (-58, 0.8), (-56, -0.8), (-54, 0.3), (-52, 1.0), (-50, -0.5), (-48, 0.2), (-46, -0.8), (-44, 0.0), (-40, -0.5), (-36, 0.3),
     (-3, -3.0), (-2, -4.5), (-1, -3.5), (0, -5.0), (1, -3.0), (2, -4.0), (3, -5.5), (4, -3.5), (5, -4.8), (6, -5.5),
     (-1, -2.5), (3, -2.8), (0, -4.0)],
    [(-16, -0.3), (-14, -0.6), (1, 0.0), (7, 0.0), (8, -0.2), (9, 0.3), (10, 0.3), (14, 0.1), (-4, 0.1)],
    [(-20, 8), (-19, 3), (-17, 6), (-16, 4), (-15, 2.5), (-14, 5), (-13, 3), (-12, 7), (-11, 1), (-10, 4),
     (-8, 0), (-7, 2), (-5, -1), (-4, 3), (-3, 0), (-2, -2), (-1, 2), (0, -1), (0, 1), (1, -3),
     (1, 3), (2, 0), (2, -5), (3, 2), (3, -2), (4, -1), (4, 4), (5, 0), (5, -3), (6, 2),
     (6, -4), (7, 1), (7, -1), (8, -2), (8, 3), (9, 0), (9, -6), (10, 1), (10, -3), (11, -1),
     (12, 2), (12, -2), (13, 0), (14, -3), (15, -1), (3, 6), (-2, 5), (-6, -3)],
    [(-8, -0.5), (-2, 0.5), (-1, -0.5), (0, 0.3), (1, -0.8), (1, 0.8), (2, -0.2), (2, -1.5), (3, 0.5), (3, -1.0),
     (4, -0.3), (4, -2.0), (5, -1.2), (5, -3.0), (6, -2.0), (6, -0.5), (7, -3.5), (7, -2.5), (8, -4.0), (9, -5.5),
     (9, -4.5), (10, -6.0), (11, -7.5), (12, -8.0), (13, -9.5), (14, -11.0), (15, -12.0), (16, -13.5), (17, -15.0), (3, -2.0),
     (5, -0.5), (-3, -0.3)],
    [(-15, 2.0), (-14, -1.0), (-13, 0.5), (-12, 3.0), (-11, -2.0), (-10, 1.0), (-9, -0.5), (-8, 2.5), (-7, -1.5), (-6, 0.0),
     (-5, -3.0), (-4, 1.5), (-3, -1.0), (-2, -4.0), (-1, 0.5), (0, -2.0), (1, -5.0), (2, -0.5), (3, -3.0), (4, 1.0),
     (5, -1.5), (6, -6.0), (7, -2.5), (8, 0.0), (9, -4.0), (10, -1.5), (11, -7.0), (12, -3.0), (13, -0.5), (14, -5.0),
     (15, -2.0), (16, -7.5), (17, -3.5), (18, -1.0), (19, -4.5), (20, -2.5), (21, -3.0), (-10, -3.0), (0, 1.5), (10, -6.0),
     (5, 2.0)],
    [(5, -2.7), (5, -1.8), (7, 0.3), (8, -0.5), (10, 1.8), (12, -0.3), (14, 0.5), (15, -0.8), (17, 0.2), (19, 1.0),
     (20, -0.4), (21, 0.3), (23, -0.2), (24, 0.6), (25, 0.0), (27, -0.5), (28, 0.5), (30, -0.3), (31, 0.8), (32, 0.0),
     (33, -0.5), (34, 1.5), (35, 0.3), (36, -0.2), (37, 0.6), (38, 0.2), (39, -0.5), (40, 1.0), (42, 0.3), (44, 1.3),
     (44, -0.5), (46, 2.0), (29, 1.2), (22, 1.0)],
    [(-27, 0.3), (-25, 0.5), (-23, 0.0), (-20, 0.2), (-15, 1.2), (-14, 0.5), (-13, 1.5), (-12, 0.8), (-11, 0.3), (-10, 1.0),
     (-9, 0.5), (-8, 0.0), (-7, 0.8), (-6, -0.2), (-5, 0.3), (-4, -0.3), (-3, 0.2), (-2, -0.5), (-1, 0.0), (0, -0.3),
     (2, 0.2), (9, 0.3), (10, -0.5), (11, 0.8), (12, 0.0), (13, 1.5), (14, -0.8), (15, 0.5), (15, 2.5), (16, -0.3),
     (17, 1.0), (18, -0.5), (20, 2.0), (21, 0.3)],
    [(-10, 2.5), (-8, 2.8), (-6, 2.3), (-4, 2.6), (-2, 2.8), (0, 2.4), (2, 2.7), (4, 2.2), (6, 2.6), (8, 2.0),
     (9, 1.0), (10, -0.5), (11, -1.5), (12, -0.8), (13, 0.2), (14, -1.8), (15, -1.0), (16, -0.5), (12, -2.2), (8, -1.0),
     (6, -2.5), (4, -1.5), (2, -3.0), (0, -4.0), (-3, -1.5), (-5, -2.0), (-12, -1.5), (-14, -8.5), (-16, -8.0), (-12, -8.0),
     (-5, -6.0), (0, -12.0), (7, -12.5), (3, -8.0)],
    [(-13, -0.6), (-12, -0.9), (-10, -0.3), (-9, -1.5), (-8, -0.8), (-7, 0.0), (-6, 1.2), (-5, 2.0), (-5, 0.5), (-4, 1.5),
     (-4, -0.5), (-3, 0.3), (-2, -0.8), (-1, 1.8), (-1, -1.0), (0, -0.8), (2, -0.6), (4, 1.5), (8, 1.8), (10, -0.8),
     (12, -1.0), (13, -0.9), (-3, -1.5)],
    [(-10, 3.0), (-8, 1.5), (-7, -0.5), (-6, -2.0), (-5, 2.0), (-5, -3.5), (-4, -1.0), (-3, -5.0), (-2, -2.5), (-6, -10.0),
     (-4, -11.0), (-3, -9.5), (5, -2.0), (5, 3.0), (6, 0.0), (6, -4.0), (7, 2.0), (7, -1.5), (8, 4.0), (8, -3.0),
     (9, 0.5), (9, 2.5), (10, -1.0), (10, 4.5), (11, 1.0), (11, -2.5), (12, 3.0), (12, 0.0), (13, 5.0), (13, -1.0),
     (14, 2.0), (15, 0.5), (14, 4.0), (10, 6.0), (-20, 0.5)],
    [(-15, 0.5), (-10, 1.0), (3, 0.0), (5, -0.3), (7, 0.2), (8, -0.5), (10, 0.0), (11, -0.8), (12, -0.2), (14, -0.6),
     (15, 0.1), (17, -1.0), (18, -0.4), (20, -1.2), (22, -0.6), (24, -1.5), (25, -0.5), (27, -1.0), (28, -2.0), (30, -1.2),
     (32, -1.5), (34, -2.5), (36, -2.0), (38, -3.5), (40, -3.0), (41, -4.0), (42, -3.2), (44, -4.5), (45, -3.8), (46, -5.0),
     (47, -4.2), (48, -5.5), (53, -6.0), (58, -7.0), (60, -7.5), (33, -3.0)],
    [(-12, -0.3), (-9, 0.5), (-8, -1.5), (-7, -2.0), (-6, -0.8), (-5, 1.0), (-5, -1.8), (-4, 0.3), (-4, -1.2), (-3, 1.8),
     (-3, -0.5), (-2, 0.5), (-2, -1.8), (-1, 1.2), (-1, -0.8), (0, 0.0), (0, 2.0), (1, -1.2), (1, 1.0), (2, 0.3),
     (2, -1.5), (3, 1.5), (5, -1.5), (13, 1.3), (-4, 2.5), (-8, 0.2)],
    [(0, -2.5), (5, -1.5), (8, -2.0), (10, -1.0), (12, -1.8), (15, -0.5), (18, -1.5), (20, 0.5), (22, -1.0), (25, 1.5),
     (27, -0.5), (28, 2.5), (30, 0.5), (32, -1.0), (33, 2.0), (35, 0.0), (37, 3.0), (38, -1.5), (40, 1.0), (42, 2.5),
     (44, -0.5), (45, 1.8), (48, -1.5), (50, 2.0), (52, 0.0), (55, 1.5), (57, -1.0), (58, -2.5), (60, 0.5), (62, -2.0),
     (63, 1.5), (65, -1.0), (67, -3.0), (70, -1.5), (72, -3.5), (75, -2.5), (77, -4.0), (80, -3.0), (82, -4.5), (85, -4.0),
     (88, -5.0), (90, -6.0), (92, -4.5), (95, -6.5), (98, -5.5), (100, -7.0), (70, 1.0), (55, 3.0)],
    [(-15, -2.0), (-13, -4.7), (-12, -1.0), (-11, -1.5), (-10, -0.5), (-9, -1.2), (-8, 0.0), (-7, -0.8), (-6, 0.3), (-5, -0.5),
     (-4, 0.5), (-3, -0.3), (-2, 0.8), (0, 0.2), (2, 0.5), (3, 0.0), (5, 0.8), (7, 0.2), (9, 0.5), (12, 0.8),
     (14, 1.2), (16, 0.3), (17, 2.0), (-7, 0.8)],
    [(-10, 3.0), (-9, 0.0), (-8, 4.5), (-8, -2.0), (-7, 1.5), (-6, -3.0), (-6, 4.0), (-5, -1.0), (-5, 2.5), (-4, -5.0),
     (-4, 5.0), (-3, 0.5), (-3, -2.5), (-2, 3.0), (-2, -6.0), (-1, 1.0), (0, -3.5), (0, 4.0), (1, -1.0), (1, 2.0),
     (2, 0.0), (2, 5.0), (3, -2.0), (3, 3.0), (4, 1.0), (5, 6.0), (5, -0.5), (6, 2.5), (7, 4.0), (8, 6.5),
     (-7, -7.5), (-5, -8.0), (-10, -5.0)],
    [(-15, -1.3), (-14, -1.5), (-12, -2.5), (-11, 0.3), (-10, -2.5), (-9, 1.3), (-8, -0.5), (-6, 1.8), (-5, -1.0), (-4, 0.0),
     (-3, 0.5), (-2, -0.8), (-1, -0.2), (0, 0.3), (0, -1.0), (1, 0.6), (2, -0.3), (3, 1.0), (4, 0.2), (5, 1.5),
     (6, -0.5), (7, 0.5), (5, 0.8), (15, -0.3)],
    [(-28, 4.0), (-26, 2.5), (-25, 4.8), (-23, 3.0), (-22, 4.0), (-20, 2.0), (-19, 3.5), (-17, 4.5), (-15, 3.0), (-13, 2.5),
     (-12, -1.0), (-10, 4.5), (-10, -1.5), (-8, 3.0), (-8, -1.8), (-7, 4.0), (-6, 2.0), (-5, 5.0), (-5, -1.0), (-4, 3.5),
     (-3, 2.5), (-2, 4.0), (-2, -1.5), (-1, 2.8), (0, 3.5), (0, -2.0), (1, 2.0), (2, 3.0), (3, 2.2), (5, 2.5),
     (8, 1.5), (20, -6.5), (21, -8.0), (22, -7.0), (23, -8.5), (24, -9.0), (25, -8.0), (26, -10.0), (27, -9.0), (28, -10.5),
     (29, -9.5), (30, -11.0), (31, -10.0), (32, -11.5), (33, -12.0), (22, -5.5), (-6, -2.2)],
    [(-35, -3.0), (-33, 2.0), (-32, 0.0), (-30, 4.0), (-29, -2.0), (-28, 1.5), (-27, 6.0), (-26, -1.0), (-25, 2.5), (-24, -4.0),
     (-23, 0.5), (-22, 3.5), (-21, -2.5), (-20, 1.0), (-19, 5.0), (-18, -1.5), (-17, 2.0), (-16, 0.0), (-15, 3.0), (-14, -3.0),
     (-13, 1.5), (-12, -0.5), (-11, 4.5), (-10, 0.5), (-9, -2.0), (-8, 2.5), (-7, 8.0), (-6, -4.5), (-5, 1.0), (-4, -6.0),
     (-3, 3.0), (-2, -2.0), (-1, 8.0), (0, -1.0), (-5, 7.5), (-2, 5.5), (15, 2.0), (20, 3.0), (27, 3.0), (35, 4.5),
     (27, -4.0), (35, -4.0)],
    [(-34, 3.5), (-33, 2.0), (-32, 4.5), (-31, 3.0), (-30, 1.5), (-30, 4.0), (-29, 2.5), (-28, 3.0), (-33, 5.0), (-31, 0.5),
     (-30, -3.0), (-29, -5.0), (-30, -6.5), (-28, -7.0), (-29, -9.0), (-31, -12.0), (-28, -11.5), (-40, -2.0), (-25, 2.0), (-12, -1.0),
     (-10, 3.0), (-9, 0.5), (-8, -2.5), (-7, 4.0), (-6, 1.5), (-5, -4.0), (-4, 2.5), (-3, -1.0), (-2, 5.0), (-1, 0.0),
     (0, -3.0), (1, 3.0), (2, -5.0), (3, 1.0), (4, 4.5), (5, -1.5), (6, 2.0), (7, -0.5), (8, 3.5), (10, 0.5),
     (12, -1.0), (14, 2.0), (16, 0.0), (18, -1.0), (20, -0.5), (25, -1.5), (28, -1.0), (30, -2.0), (33, -1.0), (35, -1.5),
     (38, -2.0), (-2, -7.0), (5, -7.0)],
    [(-25, -5.5), (-15, -1.0), (-12, 3.0), (-10, 0.0), (-8, 5.0), (-7, -2.0), (-6, 9.0), (-5, 1.5), (-4, -4.0), (-3, 3.0),
     (-2, 7.5), (-1, 0.0), (0, -3.0), (1, 4.0), (2, 9.0), (3, -1.0), (4, 2.0), (5, -5.5), (6, 5.5), (7, 0.5),
     (8, -7.0), (9, 3.0), (10, -2.0), (11, 7.0), (12, 12.0), (13, 1.0), (14, -4.0), (15, 4.5), (16, -1.5), (17, 9.0),
     (18, 2.0), (19, -3.0), (20, 5.0), (22, 0.0), (24, 6.0), (25, -4.0), (26, 3.0), (27, 9.0), (28, 1.0), (-20, -5.0)],
]

# marker size per panel: crowded streams get bigger dots so they fill in like the original
dot_size = [3] * len(names)
for k, s in [(0, 9), (3, 7), (5, 11), (6, 7), (7, 7), (13, 12), (14, 7), (15, 7),
             (20, 4), (21, 5), (22, 40), (25, 5), (26, 9), (30, 9), (32, 6), (33, 9),
             (42, 5), (46, 9)]:
    dot_size[k] = s

fig, axes = plt.subplots(17, 3, figsize=(7.93, 10.26), dpi=100)
plt.subplots_adjust(left=0.0794, right=0.9735, top=0.9815, bottom=0.0478,
                    wspace=0.159, hspace=0.61)

for i, ax in enumerate(axes.flat):
    if i >= len(names):
        ax.remove()
        continue
    sx, sy = zip(*stars[i])
    ax.scatter(sx, sy, s=dot_size[i], c='k', marker='.', lw=0, zorder=2)
    ax.plot(track_x[i], track_y[i], color='#6aaade', lw=0.7, zorder=3)
    ax.set_xlim(xlims[i])
    ax.set_ylim(ylims[i])
    ax.set_xticks(xticks[i])
    ax.set_yticks(yticks[i])
    ax.text(0.045, 0.93, names[i], transform=ax.transAxes, va='top', ha='left',
            color='#8a8a8a', fontsize=8)
    for sp in ax.spines.values():
        sp.set_color('#444444')
        sp.set_linewidth(0.8)
    ax.tick_params(labelsize=9, length=3, width=0.6, pad=2, colors='#222222')
    if i % 3 == 0:
        ax.set_ylabel(r'$\phi_2$ [$^\circ$]', fontsize=10, labelpad=1)
    if i >= 48:
        ax.set_xlabel(r'$\phi_1$ [$^\circ$]', fontsize=10, labelpad=2)

plt.savefig('out.png', dpi=100)
